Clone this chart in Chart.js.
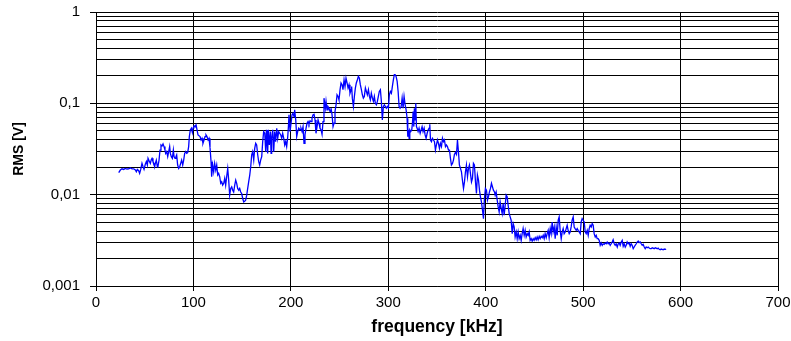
<!DOCTYPE html>
<html>
<head>
<meta charset="utf-8">
<script src="https://cdn.jsdelivr.net/npm/chart.js@4"></script>
<style>
html,body{margin:0;padding:0;background:#fff;}
#c{display:block;}
</style>
</head>
<body>
<canvas id="c" width="791" height="341"></canvas>
<script>
// ---- data ----
const freqKHz = [
23.3,25.0,26.7,28.4,30.1,31.8,33.5,35.3,37.0,38.7,40.4,41.4,42.4,43.8,44.8,45.9,47.2,48.3,49.3,50.6,
51.7,52.7,53.4,54.4,55.8,56.8,57.5,58.5,59.5,60.2,60.9,61.9,63.0,63.6,64.7,65.7,66.7,67.8,68.8,69.8,
70.8,71.5,72.6,73.6,74.6,75.6,76.3,77.3,78.4,79.4,80.1,81.1,82.1,82.8,83.8,84.9,85.9,86.9,87.9,89.0,
90.0,91.0,92.1,93.1,94.1,95.1,95.8,96.8,97.9,98.9,99.6,100.6,101.6,102.7,103.7,104.7,105.7,106.8,107.8,108.8,
109.8,110.9,111.9,112.9,113.9,115.0,116.0,117.0,
118.1,118.7,119.8,120.8,121.8,122.9,123.9,124.9,125.9,127.0,128.0,129.0,130.0,131.1,132.1,133.1,134.1,135.2,136.2,137.2,
138.3,139.3,140.3,141.3,142.4,143.4,144.4,145.4,146.5,147.5,148.5,149.5,150.6,151.6,152.6,153.6,154.7,155.7,156.7,157.8,
158.8,159.8,160.8,161.9,162.9,163.9,164.9,166.0,167.0,168.0,169.0,170.1,171.1,172.1,173.2,174.2,174.9,175.5,176.2,176.9,
177.9,179.0,179.7,180.3,181.4,182.4,183.4,184.4,185.5,186.5,187.5,188.6,189.6,190.6,191.6,192.7,193.7,194.7,195.7,196.8,
197.5,198.1,199.2,200.2,201.2,202.2,203.3,203.9,205.0,206.0,207.0,208.1,
209.4,210.4,211.5,212.5,213.5,214.5,215.6,216.6,217.6,218.6,219.7,220.7,221.7,222.7,223.8,224.8,225.8,226.9,227.9,228.9,
229.9,231.0,232.0,233.0,234.0,234.7,235.4,236.1,237.1,238.1,239.2,240.2,241.2,242.3,243.3,244.3,245.3,246.4,247.4,248.4,
249.4,250.5,251.5,252.5,253.5,254.6,255.6,256.6,257.7,258.7,259.7,260.7,261.8,262.4,263.1,264.2,265.2,266.2,267.2,268.3,
269.3,270.3,271.3,272.4,273.4,274.4,275.4,276.5,277.5,278.5,279.6,280.6,281.6,282.6,283.7,284.7,285.7,286.7,287.8,288.8,
289.8,290.8,291.9,292.9,293.9,295.0,296.0,297.0,298.0,299.1,300.1,301.1,302.1,303.2,304.2,305.2,306.2,
307.0,308.0,309.1,310.1,311.1,312.1,313.2,314.2,315.2,316.2,317.3,318.3,319.3,320.0,320.7,321.4,322.1,323.1,324.1,324.8,
325.5,326.2,326.8,327.5,328.2,328.9,329.6,330.6,331.6,332.7,333.7,334.7,335.7,336.8,337.8,338.8,339.9,340.9,341.9,342.6,
343.3,344.3,345.3,346.4,347.4,348.4,349.4,350.5,351.5,352.5,353.5,354.6,355.6,356.6,357.6,358.7,359.7,360.7,361.8,362.8,
363.8,364.8,365.9,366.9,367.9,368.9,370.0,371.0,372.0,373.0,374.1,375.1,376.1,377.2,378.2,379.2,380.2,381.3,382.3,383.3,
384.3,385.4,386.4,387.4,388.4,389.5,390.5,391.5,392.6,393.6,394.6,395.6,396.7,397.7,398.7,399.7,400.8,401.8,402.8,403.8,
404.9,405.9,406.9,407.9,409.0,
409.7,410.7,411.8,412.8,413.8,414.8,415.9,416.9,417.9,418.9,420.0,421.0,422.0,423.0,424.1,425.1,426.1,427.2,428.2,429.2,
430.2,431.3,432.3,433.3,434.3,435.4,436.4,437.4,438.4,439.5,440.5,441.5,442.6,443.6,444.6,445.6,446.7,447.7,448.7,449.7,
450.8,451.8,452.8,453.8,454.9,455.9,456.9,458.0,459.0,460.0,461.0,462.1,463.1,464.1,465.1,466.2,467.2,468.2,469.2,470.3,
471.3,472.3,473.4,474.4,475.4,476.4,477.5,478.5,479.5,480.5,481.6,482.6,483.6,484.6,485.7,486.7,487.7,488.7,489.8,490.8,
491.8,492.9,493.9,494.9,495.9,
497.0,498.0,499.0,500.0,501.1,502.1,503.1,504.2,505.2,506.2,507.2,508.3,509.3,510.3,511.3,512.4,513.4,514.4,515.4,516.5,
517.5,518.5,519.6,520.6,521.6,522.6,523.7,524.7,525.7,526.7,527.8,528.8,529.8,530.8,531.9,532.9,533.9,535.0,536.0,537.0,
538.0,539.1,540.1,541.1,542.1,543.2,544.2,545.2,546.2,547.3,548.3,549.3,550.3,551.4,552.4,553.4,554.5,555.5,556.5,557.5,
558.6,559.6,560.6,561.6,562.7,563.7,564.7,565.7,566.8,567.8,568.8,569.9,570.9,571.9,572.9,574.0,575.0,576.0,577.0,578.1,
579.1,580.1,581.1,582.2,583.2,584.2,585.2
];
const rmsV = [
.0174,.0186,.0192,.0189,.0194,.0191,.0192,.0196,.0192,.0192,.0186,.0178,.0189,.0183,.0171,.0189,.0220,.0202,.0189,.0215,
.0230,.0211,.0250,.0236,.0220,.0243,.0250,.0230,.0220,.0202,.0220,.0239,.0202,.0205,.0239,.0308,.0350,.0341,.0359,.0336,
.0308,.0283,.0296,.0261,.0296,.0336,.0283,.0261,.0250,.0308,.0261,.0250,.0261,.0272,.0211,.0194,.0202,.0220,.0239,.0211,
.0239,.0283,.0296,.0283,.0288,.0336,.0432,.0512,.0534,.0478,.0534,.0566,.0556,.0581,.0512,.0451,.0451,.0432,.0397,.0414,
.0365,.0397,.0432,.0451,.0432,.0397,.0414,.0330,
.0230,.0157,.0211,.0178,.0220,.0186,.0211,.0164,.0171,.0157,.0133,.0138,.0127,.0133,.0151,.0127,.0157,.0194,.0144,.00987,
.0117,.0122,.0112,.0107,.0127,.0144,.0133,.0117,.0112,.0117,.0107,.0103,.00908,.00834,.00849,.00871,.00987,.0117,.0138,.0164,
.0202,.0272,.0296,.0239,.0321,.0365,.0350,.0272,.0230,.0211,.0239,.0261,.0381,.0490,.0470,.0296,.0512,.0381,.0283,.0512,
.0350,.0490,.0283,.0414,.0512,.0296,.0490,.0381,.0534,.0414,.0490,.0470,.0451,.0414,.0470,.0414,.0350,.0381,.0336,.0432,
.0556,.0748,.0490,.0605,.0748,.0780,.0716,.0849,.0659,.0432,.0490,.0534,
.0512,.0534,.0491,.0556,.0365,.0451,.0534,.0605,.0631,.0590,.0643,.0631,.0687,.0748,.0760,.0659,.0470,.0556,.0659,.0605,
.0534,.0512,.0458,.0631,.114,.1004,.0885,.105,.0849,.0923,.0885,.0813,.0885,.0748,.0556,.0605,.0813,.0964,.124,.119,
.109,.141,.167,.160,.141,.181,.153,.189,.167,.147,.160,.129,.141,.153,.114,.0923,.119,.147,.167,.181,
.197,.189,.160,.141,.124,.114,.119,.147,.135,.124,.141,.119,.109,.129,.114,.105,.119,.1004,.0964,.105,
.119,.135,.141,.105,.0659,.0923,.0964,.0923,.0885,.0923,.0885,.124,.135,.129,.153,.181,.206,
.206,.197,.174,.135,.0923,.0885,.0923,.114,.0885,.119,.0964,.0849,.0687,.0432,.0512,.0414,.0512,.0491,.0512,.0605,
.0813,.0556,.0885,.0659,.1004,.0556,.0534,.0491,.0534,.0470,.0512,.0556,.0491,.0534,.0451,.0414,.0470,.0512,.0534,.0590,
.0397,.0381,.0414,.0397,.0381,.0308,.0350,.0397,.0365,.0321,.0365,.0336,.0414,.0381,.0397,.0336,.0350,.0336,.0308,.0308,
.0250,.0211,.0220,.0239,.0276,.0290,.0276,.0397,.0296,.0211,.0194,.0178,.0144,.0117,.0138,.0178,.0211,.0157,.0194,.0211,
.0171,.0138,.0151,.0220,.0211,.0138,.0103,.0164,.0144,.0112,.00947,.00834,.00676,.00547,.00908,.0117,.0112,.00871,.00947,.0107,
.0117,.0133,.0122,.0112,.0107,
.00988,.0107,.00871,.00735,.00648,.00834,.00705,.00621,.00800,.00595,.00767,.00988,.00947,.00767,.00621,.00571,.00525,.00374,.00482,.00443,
.00344,.00391,.00330,.00391,.00330,.00359,.00316,.00374,.00425,.00359,.00407,.00344,.00374,.00359,.00391,.00316,.00330,.00311,.00330,.00316,
.00338,.00321,.00344,.00321,.00350,.00330,.00350,.00338,.00359,.00330,.00374,.00338,.00374,.00407,.00338,.00425,.00374,.00502,.00391,.00443,
.00330,.00443,.00359,.00525,.00571,.00407,.00330,.00391,.00425,.00374,.00391,.00425,.00462,.00407,.00374,.00391,.00443,.00525,.00571,.00443,
.00425,.00407,.00425,.00407,.00391,
.00374,.00503,.00547,.00525,.00503,.00391,.00374,.00407,.00359,.00425,.00462,.00443,.00482,.00462,.00374,.00344,.00359,.00330,.00330,.00316,
.00279,.00296,.00279,.00290,.00286,.00296,.00290,.00303,.00290,.00296,.00279,.00290,.00303,.00321,.00290,.00279,.00290,.00267,.00290,.00296,
.00279,.00303,.00316,.00272,.00290,.00267,.00279,.00303,.00290,.00296,.00272,.00290,.00279,.00256,.00267,.00279,.00290,.00303,.00311,.00298,
.00303,.00290,.00279,.00286,.00267,.00256,.00267,.00262,.00267,.00260,.00256,.00256,.00262,.00260,.00256,.00262,.00260,.00256,.00260,.00252,
.00249,.00254,.00252,.00249,.00254,.00252,.00254
];
const xTickValues = [0,100,200,300,400,500,600,700];
const yDecades = [0.001,0.01,0.1,1];
const yDecadeLabels = ['0,001','0,01','0,1','1'];
const yMinorMultipliers = [2,3,4,5,6,7,8,9];
const xTitle = 'frequency [kHz]';
const yTitle = 'RMS [V]';

// gridline positions for the log axis: every decade and its 2..9 multiples
const yGridValues = [];
yDecades.forEach((d, i) => {
  yGridValues.push(d);
  if (i < yDecades.length - 1) yMinorMultipliers.forEach(m => yGridValues.push(+(d * m).toPrecision(3)));
});
const isDecade = v => yDecades.some(d => Math.abs(d - v) < d * 1e-6);

const points = freqKHz.map((f, i) => ({x: f, y: rmsV[i]}));

Chart.defaults.font.family = '"Liberation Sans", Arial, sans-serif';
Chart.defaults.color = '#000';

new Chart(document.getElementById('c'), {
  type: 'line',
  data: {
    datasets: [{
      data: points,
      borderColor: '#0000ff',
      borderWidth: 1.3,
      pointRadius: 0,
      fill: false,
      tension: 0
    }]
  },
  options: {
    responsive: false,
    animation: false,
    devicePixelRatio: 1,
    layout: {padding: {left: 0, right: 13, top: 12, bottom: 0}},
    plugins: {legend: {display: false}, tooltip: {enabled: false}},
    scales: {
      x: {
        type: 'linear',
        min: 0, max: 700,
        afterBuildTicks: s => { s.ticks = xTickValues.map(v => ({value: v})); },
        afterFit: s => { s.height = 55; s.paddingLeft = 0; s.paddingRight = 0; },
        border: {color: '#000', width: 1},
        grid: {color: '#000', lineWidth: 1, tickLength: 5, tickColor: '#000'},
        ticks: {font: {size: 15}, color: '#000', padding: 3, maxRotation: 0, autoSkip: false},
        title: {display: true, text: xTitle, font: {size: 17.5, weight: 'bold'}, color: '#000', padding: {top: 0, bottom: 3}}
      },
      y: {
        type: 'logarithmic',
        min: 0.001, max: 1,
        afterBuildTicks: s => { s.ticks = yGridValues.map(v => ({value: v})); },
        afterFit: s => { s.width = 96; s.paddingTop = 0; s.paddingBottom = 0; },
        border: {color: '#000', width: 1},
        grid: {
          color: '#000', lineWidth: 1, tickLength: 6,
          tickColor: ctx => (ctx.tick && isDecade(ctx.tick.value)) ? '#000' : 'rgba(0,0,0,0)'
        },
        ticks: {
          font: {size: 15}, color: '#000', padding: 10, autoSkip: false,
          callback: v => { const i = yDecades.findIndex(d => Math.abs(d - v) < d * 1e-6); return i >= 0 ? yDecadeLabels[i] : ''; }
        },
        title: {display: true, text: yTitle, font: {size: 14, weight: 'bold'}, color: '#000', padding: {top: 11, bottom: 0}}
      }
    }
  }
});
</script>
</body>
</html>
